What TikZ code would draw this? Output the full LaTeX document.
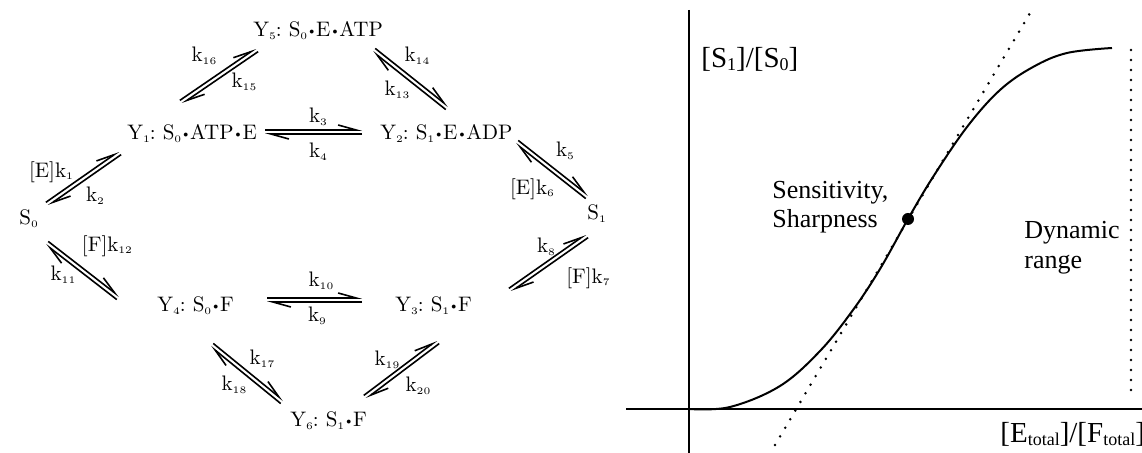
\documentclass[tikz,border=0pt]{standalone}
\usepackage{fontspec}
\newfontfamily\tms{Liberation Serif}
\usetikzlibrary{arrows.meta,calc}
\newcommand\sbs[1]{\raisebox{-0.3ex}{\fontsize{5}{5}\selectfont #1}}
\newcommand\tsb[1]{\raisebox{-0.2ex}{\fontsize{9}{9}\selectfont #1}}
\newcommand\dt{\kern1pt\raisebox{0.3ex}{\scalebox{0.45}{$\bullet$}}\kern1pt}
\newcommand\eqarr[2]{%
  \draw[harp] ($(#1)!1pt!90:(#2)$) -- ($(#2)!1pt!-90:(#1)$);
  \draw[harp] ($(#2)!1pt!90:(#1)$) -- ($(#1)!1pt!-90:(#2)$);}
\begin{document}
\begin{tikzpicture}[x=0.5pt,y=-0.5pt,
  sp/.style={font=\frenchspacing\fontsize{10.5}{12}\selectfont, inner sep=0pt, anchor=base west},
  kl/.style={font=\fontsize{10.5}{12}\selectfont, inner sep=0pt},
  harp/.style={line width=0.8pt, -{Straight Barb[left,length=9pt,width=5pt]}},
  lbl/.style={font=\tms\fontsize{13}{15}\selectfont, inner sep=0pt, anchor=base west},
  blbl/.style={font=\tms\fontsize{14.5}{16}\selectfont, inner sep=0pt, anchor=base west},
  ax/.style={line width=1pt},
  dots/.style={line width=1.4pt, line cap=round, dash pattern=on 0pt off 5pt}]
\useasboundingbox (0,0) rectangle (1142,453);
% species
\node[sp] (Y5) at (253,37) {Y\sbs{5}: S\sbs{0}\dt E\dt ATP};
\node[sp] (Y1) at (127,140) {Y\sbs{1}: S\sbs{0}\dt ATP\dt E};
\node[sp] (Y2) at (380,140) {Y\sbs{2}: S\sbs{1}\dt E\dt ADP};
\node[sp] (S0) at (19,225) {S\sbs{0}};
\node[sp] (S1) at (587,220) {S\sbs{1}};
\node[sp] (Y4) at (157,312) {Y\sbs{4}: S\sbs{0}\dt F};
\node[sp] (Y3) at (395,312) {Y\sbs{3}: S\sbs{1}\dt F};
\node[sp] (Y6) at (290,427) {Y\sbs{6}: S\sbs{1}\dt F};
% arrow ends
\coordinate (a1) at (47,204);  \coordinate (b1) at (120,153);
\coordinate (a2) at (181,102); \coordinate (b2) at (257,50);
\coordinate (a3) at (374,50);  \coordinate (b3) at (447,108);
\coordinate (a4) at (265,132); \coordinate (b4) at (362,132);
\coordinate (a5) at (517,142); \coordinate (b5) at (587,197);
\coordinate (a6) at (47,243);  \coordinate (b6) at (118,298);
\coordinate (a7) at (267,300); \coordinate (b7) at (362,300);
\coordinate (a8) at (587,236); \coordinate (b8) at (510,290);
\coordinate (a9) at (212,345); \coordinate (b9) at (282,402);
\coordinate (a10) at (365,397); \coordinate (b10) at (438,342);
\eqarr{a1}{b1}
\eqarr{a2}{b2}
\eqarr{a3}{b3}
\eqarr{a4}{b4}
\eqarr{a5}{b5}
\eqarr{a6}{b6}
\eqarr{a7}{b7}
\eqarr{a8}{b8}
\eqarr{a9}{b9}
\eqarr{a10}{b10}
% rate labels
\node[kl] (k1) at (51,172) {[E]k\sbs{1}};
\node[kl] (k2) at (95,196) {k\sbs{2}};
\node[kl] (k16) at (204,56) {k\sbs{16}};
\node[kl] (k15) at (244,82) {k\sbs{15}};
\node[kl] (k14) at (417,56) {k\sbs{14}};
\node[kl] (k13) at (397,90) {k\sbs{13}};
\node[kl] (k3) at (318,117) {k\sbs{3}};
\node[kl] (k4) at (318,152) {k\sbs{4}};
\node[kl] (k5) at (565,151) {k\sbs{5}};
\node[kl] (k6) at (532,189) {[E]k\sbs{6}};
\node[kl] (k12) at (107,246) {[F]k\sbs{12}};
\node[kl] (k11) at (63,275) {k\sbs{11}};
\node[kl] (k10) at (321,281) {k\sbs{10}};
\node[kl] (k9) at (317,316) {k\sbs{9}};
\node[kl] (k8) at (546,247) {k\sbs{8}};
\node[kl] (k7) at (588,278) {[F]k\sbs{7}};
\node[kl] (k17) at (262,359) {k\sbs{17}};
\node[kl] (k18) at (234,385) {k\sbs{18}};
\node[kl] (k19) at (387,360) {k\sbs{19}};
\node[kl] (k20) at (418,386) {k\sbs{20}};
% graph
\coordinate (xa0) at (626,409); \coordinate (xa1) at (1142,409);
\coordinate (ya0) at (689,10);  \coordinate (ya1) at (689,453);
\draw[ax] (xa0) -- (xa1);
\draw[ax] (ya0) -- (ya1);
\draw[line width=1pt] plot[smooth, tension=0.6] coordinates {(689,409) (730,407) (780,386) (820,351) (853,310) (880,269) (908,219) (933,177) (967,127) (1000,90) (1033,67) (1067,53) (1112,48)};
\coordinate (t0) at (775,445); \coordinate (t1) at (1033,8);
\draw[dots] (t0) -- (t1);
\coordinate (v0) at (1131,50); \coordinate (v1) at (1131,395);
\draw[dots] (v0) -- (v1);
\fill (908,219) circle[radius=3pt];
\node[blbl] (ylab) at (701,68) {[S\tsb{1}]/[S\tsb{0}]};
\node[blbl] (xlab) at (1000,443) {[E\tsb{total}]/[F\tsb{total}]};
\node[lbl] (sen1) at (772,199) {Sensitivity,};
\node[lbl] (sen2) at (772,228) {Sharpness};
\node[lbl] (dyn1) at (1024,239) {Dynamic};
\node[lbl] (dyn2) at (1024,269) {range};
\end{tikzpicture}
\end{document}
